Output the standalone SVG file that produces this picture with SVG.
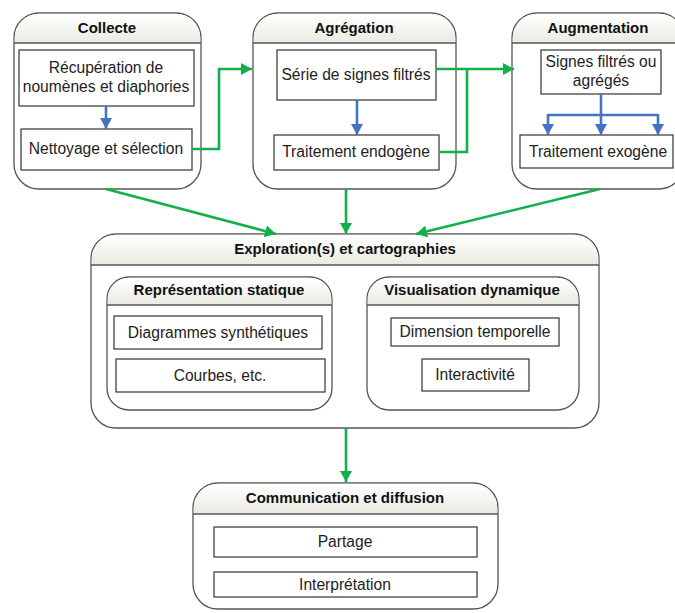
<svg xmlns="http://www.w3.org/2000/svg" width="675" height="613" viewBox="0 0 675 613">
<defs>
<linearGradient id="hg" x1="0" y1="0" x2="0" y2="1">
<stop offset="0" stop-color="#ffffff"/>
<stop offset="1" stop-color="#eaeae2"/>
</linearGradient>
<marker id="ag" markerUnits="userSpaceOnUse" markerWidth="12" markerHeight="12" refX="11" refY="6" orient="auto">
<path d="M0,0 L11,6 L0,12 Z" fill="#12b04b"/>
</marker>
<marker id="ab" markerUnits="userSpaceOnUse" markerWidth="12" markerHeight="12" refX="11" refY="6" orient="auto">
<path d="M0,0 L11,6 L0,12 Z" fill="#4472c4"/>
</marker>
</defs>
<style>
.frame{fill:#fff;stroke:#555;stroke-width:1.3}
.hdr{fill:url(#hg);stroke:none}
.hl{stroke:#555;stroke-width:1.3}
.box{fill:#fff;stroke:#333;stroke-width:1.2}
text{font-family:"Liberation Sans",Arial,sans-serif;font-size:15.6px;fill:#222;text-anchor:middle}
.h{font-weight:bold;fill:#111;font-size:15px}
.g{fill:none;stroke:#12b04b;stroke-width:2.6;marker-end:url(#ag)}
.gn{fill:none;stroke:#12b04b;stroke-width:2.6}
.b{fill:none;stroke:#4472c4;stroke-width:2.6;marker-end:url(#ab)}
.bn{fill:none;stroke:#4472c4;stroke-width:2.6}
</style>

<g id="collecte">
<rect class="frame" x="14" y="13" width="187" height="176" rx="25"/>
<path class="hdr" d="M14.7,43 V38 A24.3,24.3 0 0 1 39,13.7 H176 A24.3,24.3 0 0 1 200.3,38 V43 Z"/>
<line class="hl" x1="14" y1="43" x2="201" y2="43"/>
<text class="h" x="107" y="33">Collecte</text>
<rect class="box" x="19" y="50" width="175" height="56"/>
<text x="106" y="73">Récupération de</text>
<text x="106" y="92">noumènes et diaphories</text>
<rect class="box" x="21" y="129" width="171" height="41"/>
<text x="106" y="154">Nettoyage et sélection</text>
</g>

<g id="agregation">
<rect class="frame" x="253" y="13" width="203" height="176" rx="25"/>
<path class="hdr" d="M253.7,43 V38 A24.3,24.3 0 0 1 278,13.7 H431 A24.3,24.3 0 0 1 455.3,38 V43 Z"/>
<line class="hl" x1="253" y1="43" x2="456" y2="43"/>
<text class="h" x="354" y="33">Agrégation</text>
<rect class="box" x="277" y="50" width="159" height="50"/>
<text x="356" y="80">Série de signes filtrés</text>
<rect class="box" x="274" y="135" width="165" height="35"/>
<text x="356" y="157">Traitement endogène</text>
</g>

<g id="augmentation">
<rect class="frame" x="512" y="13" width="172" height="176" rx="25"/>
<path class="hdr" d="M512.7,43 V38 A24.3,24.3 0 0 1 537,13.7 H659 A24.3,24.3 0 0 1 683.3,38 V43 Z"/>
<line class="hl" x1="512" y1="43" x2="684" y2="43"/>
<text class="h" x="598" y="33">Augmentation</text>
<rect class="box" x="541" y="50" width="120" height="44"/>
<text x="601" y="67">Signes filtrés ou</text>
<text x="601" y="86">agrégés</text>
<rect class="box" x="520" y="135" width="153" height="33"/>
<text x="598" y="157">Traitement exogène</text>
</g>

<g id="exploration">
<rect class="frame" x="91" y="234" width="508" height="194" rx="25"/>
<path class="hdr" d="M91.7,265 V259 A24.3,24.3 0 0 1 116,234.7 H574 A24.3,24.3 0 0 1 598.3,259 V265 Z"/>
<line class="hl" x1="91" y1="265" x2="599" y2="265"/>
<text class="h" x="345" y="254">Exploration(s) et cartographies</text>
</g>

<g id="representation">
<rect class="frame" x="107" y="277" width="225" height="133" rx="22"/>
<path class="hdr" d="M107.7,305 V299 A21.3,21.3 0 0 1 129,277.7 H310 A21.3,21.3 0 0 1 331.3,299 V305 Z"/>
<line class="hl" x1="107" y1="305" x2="332" y2="305"/>
<text class="h" x="219" y="295">Représentation statique</text>
<rect class="box" x="114" y="316" width="208" height="33"/>
<text x="218" y="338">Diagrammes synthétiques</text>
<rect class="box" x="116" y="359" width="209" height="33"/>
<text x="220" y="381">Courbes, etc.</text>
</g>

<g id="visualisation">
<rect class="frame" x="367" y="277" width="212" height="133" rx="22"/>
<path class="hdr" d="M367.7,305 V299 A21.3,21.3 0 0 1 389,277.7 H557 A21.3,21.3 0 0 1 578.3,299 V305 Z"/>
<line class="hl" x1="367" y1="305" x2="579" y2="305"/>
<text class="h" x="472" y="295">Visualisation dynamique</text>
<rect class="box" x="391" y="318" width="168" height="28"/>
<text x="475" y="337">Dimension temporelle</text>
<rect class="box" x="422" y="359" width="107" height="32"/>
<text x="475" y="380">Interactivité</text>
</g>

<g id="communication">
<rect class="frame" x="193" y="483" width="305" height="126" rx="25"/>
<path class="hdr" d="M193.7,514 V508 A24.3,24.3 0 0 1 218,483.7 H473 A24.3,24.3 0 0 1 497.3,508 V514 Z"/>
<line class="hl" x1="193" y1="514" x2="498" y2="514"/>
<text class="h" x="345" y="503">Communication et diffusion</text>
<rect class="box" x="214" y="527" width="263" height="30"/>
<text x="345" y="547">Partage</text>
<rect class="box" x="214" y="572" width="263" height="25"/>
<text x="345" y="590">Interprétation</text>
</g>

<g id="connectors">
<path class="b" d="M106,106 V129"/>
<path class="b" d="M357,100 V135"/>
<path class="b" d="M601,94 V135"/>
<path class="bn" d="M548,115 H658"/>
<path class="b" d="M548,114 V135"/>
<path class="b" d="M658,114 V135"/>
<path class="g" d="M192,149 H219 V69 H252"/>
<path class="g" d="M436,69 H514"/>
<path class="gn" d="M439,152 H467 V69"/>
<path class="g" d="M106,189 L276,234"/>
<path class="g" d="M346,189 V234"/>
<path class="g" d="M600,189 L416,234"/>
<path class="g" d="M346,428 V482"/>
</g>
</svg>
